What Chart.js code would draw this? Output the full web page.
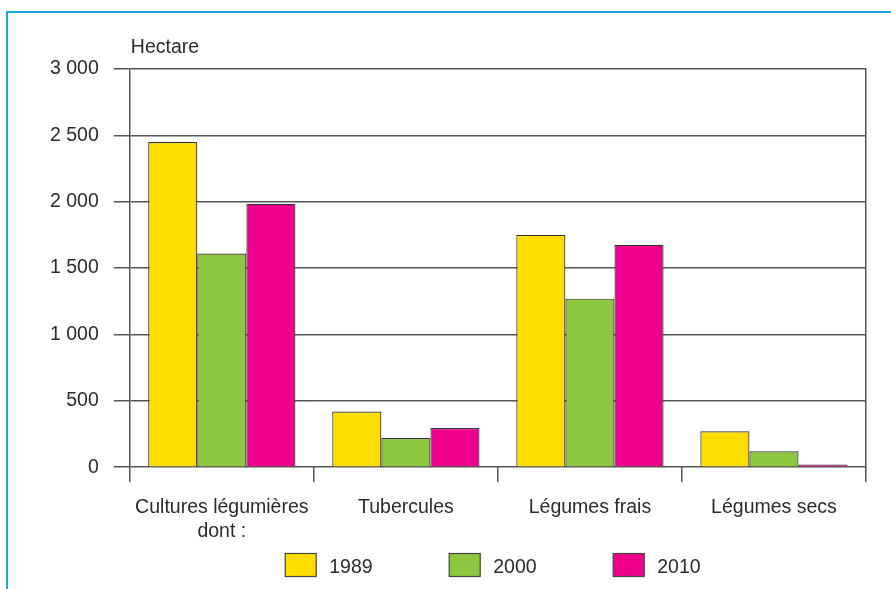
<!DOCTYPE html>
<html>
<head>
<meta charset="utf-8">
<script src="https://cdn.jsdelivr.net/npm/chart.js@4.4.1/dist/chart.umd.min.js"></script>
<style>
  html, body { margin: 0; padding: 0; background: #fff; overflow: hidden; }
  #wrap { position: relative; width: 891px; height: 589px; }
  #frame { position: absolute; left: 6px; top: 11px; width: 1000px; height: 700px;
           border: 2px solid #1ba8e0; box-sizing: border-box; }
  canvas { position: absolute; left: 0; top: 0; }
</style>
</head>
<body>
<div id="wrap">
  <div id="frame"></div>
  <canvas id="chart" width="891" height="589"></canvas>
</div>
<script>
const categories = [['Cultures légumières', 'dont :'], 'Tubercules', 'Légumes frais', 'Légumes secs'];
const years = ['1989', '2000', '2010'];
const values_1989 = [2450, 420, 1750, 270];
const values_2000 = [1610, 220, 1270, 120];
const values_2010 = [1985, 295, 1675, 20];
const unit_label = 'Hectare';
const bar_colors = ['#ffdd00', '#8dc63f', '#ec008c'];

const ink = '#2b2b2b';
const grid_color = '#555555';
const font_family = '"Liberation Sans", Arial, sans-serif';

function fmt_thousands (v) {
  return String(v).replace(/\B(?=(\d{3})+(?!\d))/g, ' ');
}

// "Hectare" above the value axis
const unit_plugin = {
  id: 'unit_label',
  afterDraw (chart) {
    const ctx = chart.ctx;
    const area = chart.chartArea;
    ctx.save();
    ctx.font = '19.5px ' + font_family;
    ctx.fillStyle = ink;
    ctx.textAlign = 'left';
    ctx.textBaseline = 'middle';
    ctx.fillText(unit_label, area.left + 1, area.top - 21);
    ctx.restore();
  }
};

// wide spaced legend under the category labels
const wide_legend_plugin = {
  id: 'wide_legend',
  afterDraw (chart) {
    const ctx = chart.ctx;
    const area = chart.chartArea;
    const sets = chart.data.datasets;
    const box_w = 31;
    const box_h = 23;
    const gap = 13;
    const step = 164;
    ctx.save();
    ctx.font = '19.5px ' + font_family;
    const last_w = box_w + gap + ctx.measureText(sets[sets.length - 1].label).width;
    const total = step * (sets.length - 1) + last_w;
    const cx = (area.left + area.right) / 2 - 5;
    const y = chart.height - 24;
    let x = cx - total / 2;
    sets.forEach(ds => {
      ctx.fillStyle = ds.backgroundColor;
      ctx.fillRect(x, y - box_h / 2, box_w, box_h);
      ctx.strokeStyle = '#444444';
      ctx.lineWidth = 1.2;
      ctx.strokeRect(x, y - box_h / 2, box_w, box_h);
      ctx.fillStyle = ink;
      ctx.textAlign = 'left';
      ctx.textBaseline = 'middle';
      ctx.fillText(ds.label, x + box_w + gap, y + 3);
      x += step;
    });
    ctx.restore();
  }
};

const ctx = document.getElementById('chart').getContext('2d');
const chart = new Chart(ctx, {
  type: 'bar',
  data: {
    labels: categories,
    datasets: [
      { label: years[0], data: values_1989, backgroundColor: bar_colors[0] },
      { label: years[1], data: values_2000, backgroundColor: bar_colors[1] },
      { label: years[2], data: values_2010, backgroundColor: bar_colors[2] }
    ].map(d => Object.assign(d, {
      borderColor: '#333333',
      borderWidth: 1.2,
      borderSkipped: 'bottom',
      categoryPercentage: 0.8,
      barPercentage: 1.0
    }))
  },
  options: {
    responsive: false,
    animation: false,
    devicePixelRatio: 1,
    layout: { padding: { left: 35, right: 25, top: 69, bottom: 32 } },
    font: { family: font_family },
    scales: {
      x: {
        grid: {
          drawOnChartArea: false,
          drawTicks: true,
          tickLength: 15,
          color: grid_color,
          lineWidth: 1.5,
          offset: true
        },
        border: { display: false },
        ticks: {
          color: ink,
          font: { size: 19.5, family: font_family },
          padding: 14,
          maxRotation: 0
        }
      },
      y: {
        min: 0,
        max: 3000,
        ticks: {
          stepSize: 500,
          color: ink,
          font: { size: 19.5, family: font_family },
          padding: 15,
          callback: v => fmt_thousands(v)
        },
        grid: { color: grid_color, lineWidth: 1.5, tickLength: 16 },
        border: { display: true, color: grid_color, width: 1.5 }
      },
      y2: {
        position: 'right',
        min: 0,
        max: 3000,
        ticks: { display: false },
        grid: { drawOnChartArea: false, drawTicks: false, tickLength: 0 },
        border: { display: true, color: grid_color, width: 1.5 }
      }
    },
    plugins: {
      legend: { display: false },
      title: { display: false },
      tooltip: { enabled: false }
    }
  },
  plugins: [unit_plugin, wide_legend_plugin]
});
</script>
</body>
</html>
